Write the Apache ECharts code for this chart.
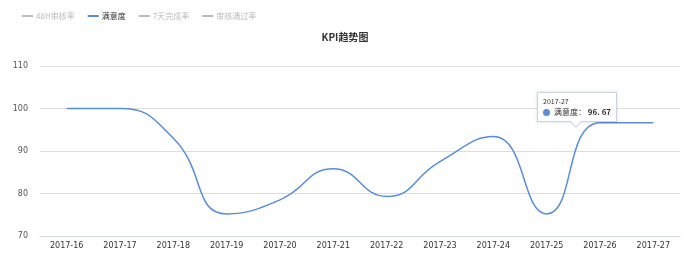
<!DOCTYPE html>
<html><head><meta charset="utf-8">
<script src="https://cdn.jsdelivr.net/npm/echarts@6/dist/echarts.min.js"></script>
<style>html,body{margin:0;padding:0;background:#fff}#c{width:690px;height:257px}</style>
</head><body><div id="c"></div>
<script>
var categories = ['2017-16','2017-17','2017-18','2017-19','2017-20','2017-21','2017-22','2017-23','2017-24','2017-25','2017-26','2017-27'];
var legendNames = ['48H审核率','满意度','7天完成率','审核通过率'];
var satisfaction = [100, 100, 93, 75.2, 78.5, 85.8, 79.3, 87.5, 93.4, 75.2, 96.67, 96.67];
var yTicks = {min: 70, max: 110, interval: 10};

var chart = echarts.init(document.getElementById('c'), null, {renderer: 'canvas'});
var selected = {};
legendNames.forEach(function(n){ selected[n] = (n === '满意度'); });
var series = legendNames.map(function(n){
  return {
    name: n, type: 'line', smooth: true, showSymbol: false, symbol: 'none',
    data: n === '满意度' ? satisfaction : [],
    lineStyle: {width: 1.5, color: '#5a8dd3'}, itemStyle: {color: '#5a8dd3'},
    emphasis: {disabled: true}
  };
});
chart.setOption({
  animation: false,
  title: {text: 'KPI趋势图', left: 'center', top: 27, textStyle: {fontSize: 10, fontWeight: 'bold', color: '#333', fontFamily: 'Noto Sans CJK SC'}},
  legend: {data: legendNames, selected: selected, left: 17, top: 7, itemWidth: 11, itemHeight: 2, itemGap: 13, icon: 'rect',
    inactiveColor: '#bbb', textStyle: {fontSize: 8, color: '#333', padding: [0, 0, 0, -2], fontFamily: 'Noto Sans CJK SC'}},
  tooltip: {trigger: 'axis', show: true, alwaysShowContent: true, showContent: true,
    axisPointer: {type: 'none'},
    backgroundColor: '#fff', borderColor: '#c8d3e3', borderWidth: 1, padding: [4, 5],
    extraCssText: 'box-shadow:0 0 3px rgba(0,0,0,0.15);border-radius:0;overflow:visible;',
    position: function(){ return [537, 92]; },
    formatter: function(params){
      var p = params[0];
      return '<div style="font-size:7px;color:#333;line-height:9px;font-family:Noto Sans CJK SC">' + p.name + '</div>' +
        '<div style="font-size:8px;color:#333;line-height:11px;font-family:Noto Sans CJK SC;white-space:nowrap">' +
        '<span style="display:inline-block;width:7px;height:7px;border-radius:50%;background:#5a8dd3;margin-right:4px;vertical-align:-1px"></span>' +
        p.seriesName + '： <b>' + String(p.value).replace('.', '. ') + '</b></div>' +
        '<div style="position:absolute;left:34px;bottom:-5px;width:7px;height:7px;background:#fff;border-right:1px solid #c8d3e3;border-bottom:1px solid #c8d3e3;transform:rotate(45deg)"></div>';
    }
  },
  grid: {left: 40, right: 10, top: 66, bottom: 21},
  xAxis: {type: 'category', data: categories, boundaryGap: true,
    axisLine: {lineStyle: {color: '#d3dcea', width: 1}}, axisTick: {show: false},
    axisLabel: {fontSize: 8, color: '#333', margin: 6, fontFamily: 'DejaVu Sans'}},
  yAxis: {type: 'value', min: yTicks.min, max: yTicks.max, interval: yTicks.interval,
    axisLine: {show: false}, axisTick: {show: false},
    axisLabel: {fontSize: 8, color: '#555', margin: 12, fontFamily: 'DejaVu Sans'},
    splitLine: {lineStyle: {color: '#ddd'}}},
  series: series
});
chart.dispatchAction({type: 'showTip', seriesIndex: 1, dataIndex: 11});
</script></body></html>
